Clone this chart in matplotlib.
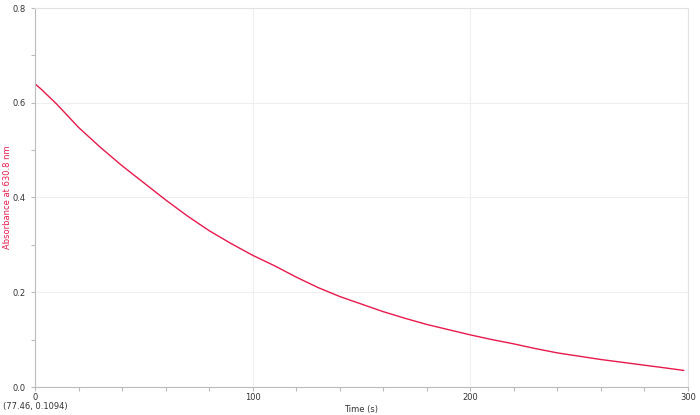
import matplotlib; matplotlib.use("Agg")
import matplotlib.pyplot as plt
from matplotlib.ticker import MultipleLocator

time_s = [0, 3, 5, 10, 20, 30, 40, 50, 60, 70, 80, 90, 100, 110, 120, 130, 140, 150,
          160, 170, 180, 190, 200, 210, 220, 230, 240, 250, 260, 270, 280, 290, 298]
absorb = [0.640, 0.628, 0.619, 0.597, 0.548, 0.506, 0.467, 0.431, 0.395, 0.361, 0.330,
          0.303, 0.278, 0.256, 0.232, 0.210, 0.191, 0.175, 0.159, 0.145, 0.132, 0.121,
          0.110, 0.100, 0.091, 0.081, 0.072, 0.065, 0.058, 0.052, 0.046, 0.040, 0.035]
red = "#e8194b"

fig = plt.figure(figsize=(7, 4.15), dpi=100)
ax = fig.add_axes([35/700, 28/415, 653/700, 379/415])
ax.plot(time_s, absorb, color=red, lw=1.0)
ax.set_xlim(0, 300); ax.set_ylim(0, 0.8)
ax.xaxis.set_major_locator(MultipleLocator(100)); ax.xaxis.set_minor_locator(MultipleLocator(20))
ax.yaxis.set_major_locator(MultipleLocator(0.2)); ax.yaxis.set_minor_locator(MultipleLocator(0.1))
ax.set_yticklabels([f"{v:.1f}" for v in ax.get_yticks()])
ax.grid(True, which="major", color="#efefef", lw=0.8)
for s in ["left", "bottom"]: ax.spines[s].set_color("#bbbbbb")
for s in ["top", "right"]: ax.spines[s].set_color("#e2e2e2")
ax.tick_params(which="both", colors="#bbbbbb", labelcolor="#333333", labelsize=6, length=3, width=0.8)
ax.tick_params(axis="x", pad=1.5)
ax.set_xlabel("Time (s)", fontsize=6, color="#333333")
ax.xaxis.set_label_coords(0.5, -18/379)
ax.set_ylabel("Absorbance at 630.8 nm", fontsize=6, color=red)
ax.yaxis.set_label_coords(-23/653, 0.5)
fig.text(3/700, 1 - 406/415, "(77.46, 0.1094)", fontsize=6, color="#333333", va="center")
fig.savefig("out.png", dpi=100)
